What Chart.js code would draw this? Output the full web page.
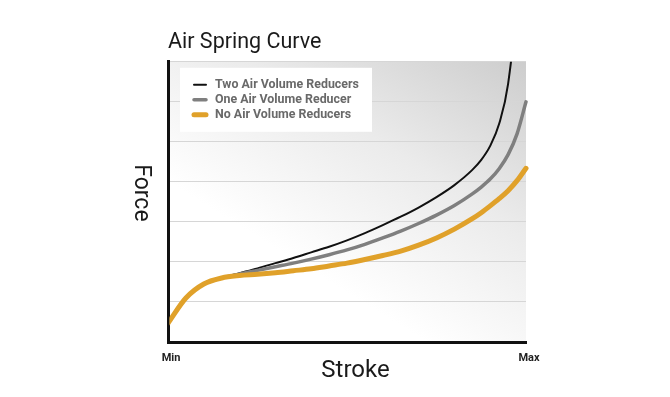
<!DOCTYPE html>
<html>
<head>
<meta charset="utf-8">
<script src="https://cdn.jsdelivr.net/npm/chart.js@4/dist/chart.umd.min.js"></script>
<style>
  html, body { margin: 0; padding: 0; background: #ffffff; }
  #wrap { width: 670px; height: 397px; }
</style>
</head>
<body>
<div id="wrap"><canvas id="c" width="670" height="397"></canvas></div>
<script>
// ---- data ----
const chartTitle = 'Air Spring Curve';
const xTitle = 'Stroke';
const yTitle = 'Force';
const strokeTickLabels = ['Min', 'Max'];
const strokePct = [0, 5, 10, 15, 20, 25, 30, 35, 40, 45, 50, 55, 60, 65, 70, 75, 80, 85, 87.5, 90, 92.5, 95, 97.5, 100];
const seriesLabels = ['Two Air Volume Reducers', 'One Air Volume Reducer', 'No Air Volume Reducers'];
const twoReducers = [0.47, 1.10, 1.45, 1.60, 1.72, 1.84, 1.97, 2.10, 2.24, 2.38, 2.54, 2.72, 2.92, 3.13, 3.36, 3.62, 3.92, 4.30, 4.55, 4.90, 5.45, 6.45, 8.60, 13.0];
const oneReducer  = [0.47, 1.10, 1.45, 1.60, 1.70, 1.79, 1.88, 1.97, 2.07, 2.18, 2.30, 2.44, 2.60, 2.77, 2.96, 3.17, 3.41, 3.70, 3.87, 4.07, 4.33, 4.68, 5.20, 6.00];
const noReducers  = [0.47, 1.10, 1.45, 1.60, 1.66, 1.69, 1.73, 1.78, 1.83, 1.90, 1.97, 2.06, 2.16, 2.27, 2.42, 2.60, 2.82, 3.08, 3.23, 3.40, 3.58, 3.78, 4.03, 4.34];
const forceMax = 7;

const seriesColors = ['#111111', '#7f7f7f', '#e0a12a'];
const seriesWidths = [2, 3.5, 5];

function pts(vals) { return strokePct.map((x, i) => ({ x: x, y: vals[i] })); }
const seriesValues = [twoReducers, oneReducer, noReducers];

const bgPlugin = {
  id: 'plotBg',
  beforeDraw(chart) {
    const { ctx, chartArea: a } = chart;
    const g = ctx.createLinearGradient(a.right, a.top, a.right - 153, a.top + 247);
    g.addColorStop(0, '#cdcdcd');
    g.addColorStop(0.5, '#ebebeb');
    g.addColorStop(1, '#ffffff');
    ctx.save();
    ctx.fillStyle = g;
    ctx.fillRect(a.left, a.top, a.right - a.left, a.bottom - a.top);
    ctx.restore();
  }
};

const textPlugin = {
  id: 'axisTexts',
  afterDraw(chart) {
    const { ctx, chartArea: a } = chart;
    ctx.save();
    ctx.fillStyle = '#1a1a1a';
    ctx.font = '400 24px Roboto';
    ctx.textAlign = 'center';
    ctx.textBaseline = 'alphabetic';
    ctx.fillText(xTitle, (a.left + a.right) / 2 + 8.5, a.bottom + 35);
    ctx.translate(a.left - 27, (a.top + a.bottom) / 2 - 9);
    ctx.rotate(Math.PI / 2);
    ctx.font = '400 23px Roboto';
    ctx.textBaseline = 'middle';
    ctx.fillText(yTitle, 0, 0);
    ctx.restore();
  }
};

const boxLegendPlugin = {
  id: 'boxLegend',
  afterDatasetsDraw(chart) {
    const { ctx, chartArea: a } = chart;
    const bx = a.left + 12, by = a.top + 6, bw = 192, bh = 64;
    ctx.save();
    ctx.fillStyle = '#ffffff';
    ctx.fillRect(bx, by, bw, bh);
    chart.data.datasets.forEach((ds, i) => {
      const y = by + 17 + i * 15;
      ctx.strokeStyle = ds.borderColor;
      ctx.lineWidth = ds.borderWidth;
      ctx.lineCap = 'round';
      ctx.beginPath();
      ctx.moveTo(bx + 14, y);
      ctx.lineTo(bx + 26, y);
      ctx.stroke();
      ctx.fillStyle = '#696969';
      ctx.font = 'bold 12.4px Roboto';
      ctx.textAlign = 'left';
      ctx.textBaseline = 'middle';
      ctx.fillText(ds.label, bx + 35, y);
    });
    ctx.restore();
  }
};

const datasets = seriesLabels.map((lab, i) => ({
  label: lab,
  data: pts(seriesValues[i]),
  borderColor: seriesColors[i],
  backgroundColor: seriesColors[i],
  borderWidth: seriesWidths[i],
  pointRadius: 0,
  pointHoverRadius: 0,
  fill: false,
  cubicInterpolationMode: 'monotone',
  borderCapStyle: 'round',
  order: 3 - i,
  clip: { left: -1.5, top: 0, right: 3, bottom: 0 }
}));

new Chart(document.getElementById('c'), {
  type: 'line',
  data: { datasets: datasets },
  options: {
    responsive: false,
    animation: false,
    events: [],
    layout: { padding: { left: 168, right: 144, top: 30, bottom: 0 } },
    plugins: {
      legend: { display: false },
      tooltip: { enabled: false },
      title: {
        display: true,
        text: chartTitle,
        align: 'start',
        color: '#1a1a1a',
        font: { family: 'Roboto', size: 21.5, weight: '400' },
        padding: { top: 0, bottom: 6 }
      }
    },
    scales: {
      x: {
        type: 'linear',
        min: 0,
        max: 100,
        afterBuildTicks(scale) { scale.ticks = [{ value: 0 }, { value: 100 }]; },
        afterFit(scale) { scale.height = 55; },
        grid: { display: false, drawTicks: false },
        border: { display: true, color: '#111111', width: 3 },
        ticks: {
          padding: 10,
          labelOffset: 3,
          maxRotation: 0,
          autoSkip: false,
          color: '#222222',
          font: { family: 'Roboto', size: 11, weight: 'bold' },
          callback: (v) => v === 0 ? strokeTickLabels[0] : strokeTickLabels[1]
        }
      },
      y: {
        type: 'linear',
        min: 0,
        max: forceMax,
        afterFit(scale) { scale.width = 0; },
        ticks: { display: false, stepSize: 1 },
        grid: { color: '#d6d6d6', lineWidth: 1, drawTicks: false },
        border: { display: true, color: '#111111', width: 3 }
      }
    }
  },
  plugins: [bgPlugin, boxLegendPlugin, textPlugin]
});
</script>
</body>
</html>
